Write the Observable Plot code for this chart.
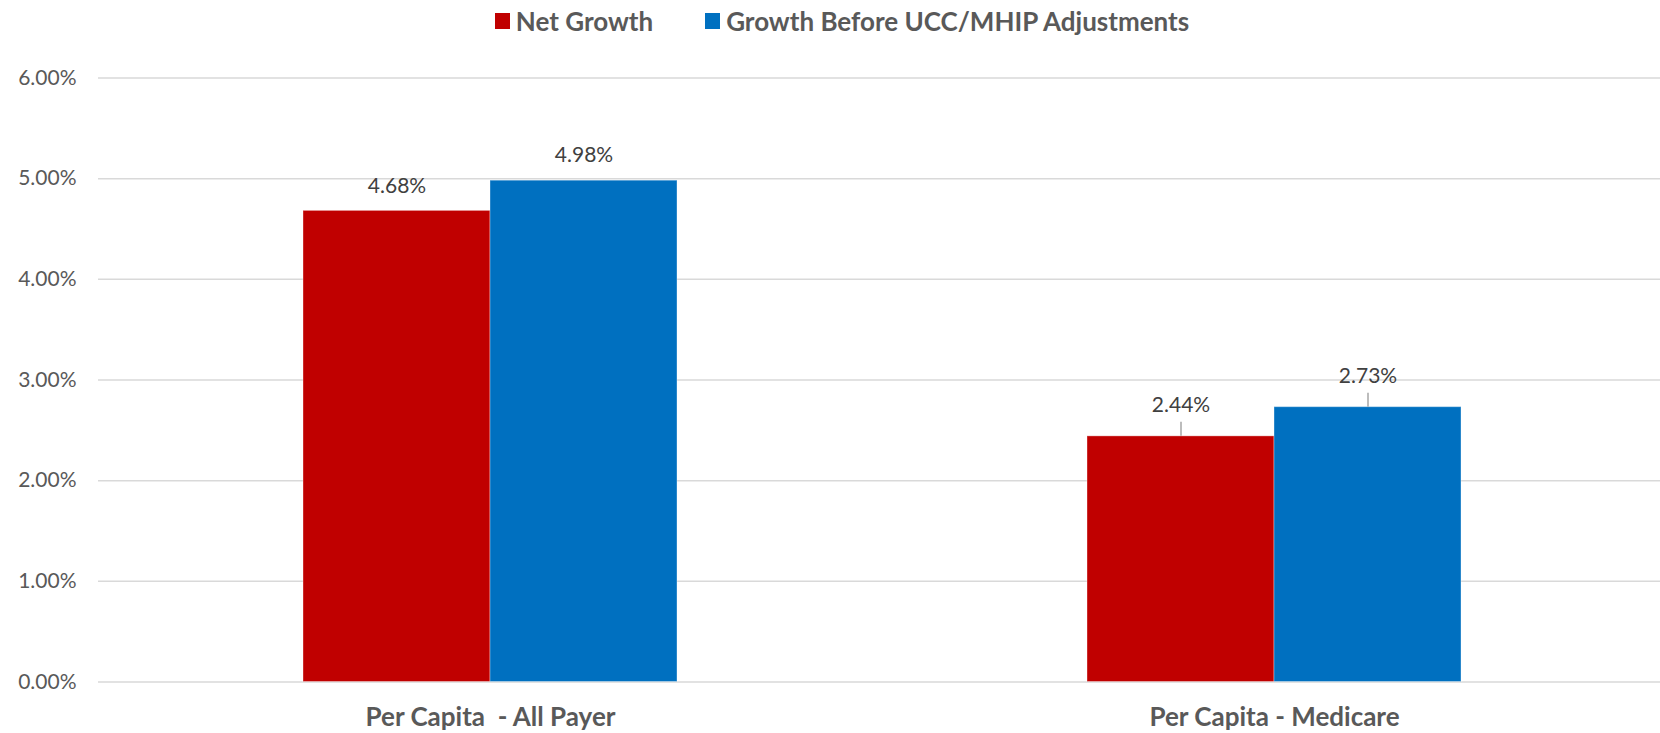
<!DOCTYPE html>
<html>
<head>
<meta charset="utf-8">
<script src="https://cdn.jsdelivr.net/npm/d3@7"></script>
<script src="https://cdn.jsdelivr.net/npm/@observablehq/plot@0.6"></script>
<style>
  html, body { margin: 0; padding: 0; background: #fff; }
  #legend { height: 44px; display: flex; justify-content: center; align-items: center; padding-left: 24px; padding-bottom: 2px; box-sizing: border-box; font-family: Lato, sans-serif; font-weight: bold; font-size: 26px; color: #595959; }
  .item { display: flex; align-items: center; margin: 0 26px; }
  .sw { width: 15px; height: 16px; margin-right: 6px; }
  svg text { white-space: pre; }
</style>
</head>
<body>
<div id="legend"></div>
<div id="chart"></div>
<script>
const categories = ["Per Capita  - All Payer", "Per Capita - Medicare"];
const series = ["Net Growth", "Growth Before UCC/MHIP Adjustments"];
const netGrowth = [4.68, 2.44];
const beforeAdjustments = [4.98, 2.73];
const yTicks = [0, 1, 2, 3, 4, 5, 6];
const colors = ["#C00000", "#0070C0"];

const seriesValues = [netGrowth, beforeAdjustments];
const rows = [];
categories.forEach((c, ci) => {
  series.forEach((s, si) => rows.push({category: c, series: s, value: seriesValues[si][ci]}));
});

// legend
const legend = document.getElementById("legend");
series.forEach((s, i) => {
  const item = document.createElement("div");
  item.className = "item";
  const sw = document.createElement("div");
  sw.className = "sw";
  sw.style.background = colors[i];
  const t = document.createElement("span");
  t.textContent = s;
  item.appendChild(sw); item.appendChild(t);
  legend.appendChild(item);
});

const fmt = d => d.toFixed(2) + "%";
const first = rows.filter(d => d.category === categories[0]);
const second = rows.filter(d => d.category === categories[1]);

const chart = Plot.plot({
  width: 1660,
  height: 689,
  marginTop: 33.5,
  marginBottom: 51.5,
  marginLeft: 97,
  marginRight: -6,
  style: {fontFamily: "Lato, sans-serif", fontSize: "21px", color: "#595959", background: "#fff", overflow: "visible"},
  fx: {domain: categories, padding: 0, label: null},
  x: {domain: series, paddingInner: 0, paddingOuter: 1.09, axis: null},
  y: {domain: [0, 6], label: null},
  color: {domain: series, range: colors},
  marks: [
    Plot.gridY(yTicks, {stroke: "#d9d9d9", strokeOpacity: 1, strokeWidth: 1.5}),
    Plot.axisY({ticks: yTicks, tickFormat: fmt, tickSize: 0, tickPadding: 22, label: null, fill: "#595959", fontSize: 21}),
    Plot.axisFx({anchor: "bottom", tickSize: 0, tickPadding: 26, label: null, fontWeight: "bold", fontSize: 26, fill: "#595959"}),
    Plot.barY(rows, {fx: "category", x: "series", y: "value", fill: "series", stroke: "#ffffff", strokeOpacity: 0.35, strokeWidth: 1}),
    Plot.ruleX(second, {fx: "category", x: "series", y1: "value", y2: "value", insetTop: -14, stroke: "#a6a6a6", strokeWidth: 1.5}),
    Plot.text(first, {fx: "category", x: "series", y: "value", text: d => fmt(d.value), dy: -25, lineAnchor: "middle", fill: "#404040", fontSize: 21}),
    Plot.text(second, {fx: "category", x: "series", y: "value", text: d => fmt(d.value), dy: -31, lineAnchor: "middle", fill: "#404040", fontSize: 21})
  ]
});
document.getElementById("chart").appendChild(chart);
</script>
</body>
</html>
